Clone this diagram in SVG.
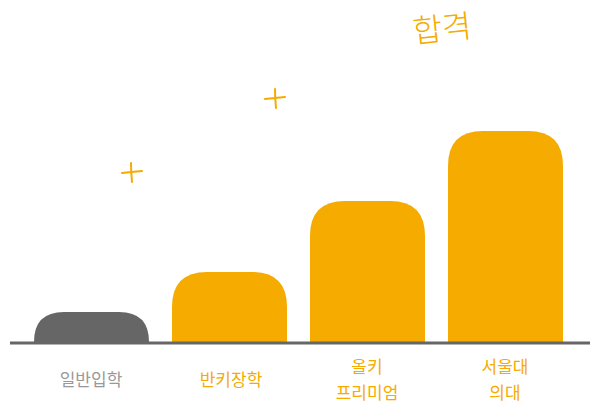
<svg xmlns="http://www.w3.org/2000/svg" width="600" height="403" viewBox="0 0 600 403">
<style>
.bar{fill:#f5ab00}
.lbl{font-family:"Noto Sans CJK KR",sans-serif;font-size:17px;text-anchor:middle;fill:#f5ab00}
.plus{stroke:#f5ab00;stroke-width:2;stroke-linecap:round;fill:none}
</style>
<rect width="600" height="403" fill="#fff"/>
<g id="bar1"><path d="M34,343 V342 Q34,312 64,312 H119 Q149,312 149,342 V343 Z" fill="#666"/></g>
<g id="bar2"><path class="bar" d="M172,343 V307 Q172,272 207,272 H252 Q287,272 287,307 V343 Z"/></g>
<g id="bar3"><path class="bar" d="M310,343 V236 Q310,201 345,201 H390 Q425,201 425,236 V343 Z"/></g>
<g id="bar4"><path class="bar" d="M448,343 V166 Q448,131 483,131 H528 Q563,131 563,166 V343 Z"/></g>
<g id="axis"><line x1="10" y1="343" x2="590" y2="343" stroke="#666" stroke-width="3"/></g>
<g id="labels">
<text class="lbl" x="91" y="386" style="fill:#999">일반입학</text>
<text class="lbl" x="231" y="386">반키장학</text>
<text class="lbl" x="367" y="373">올키</text>
<text class="lbl" x="367" y="399">프리미엄</text>
<text class="lbl" x="505" y="373">서울대</text>
<text class="lbl" x="505" y="399">의대</text>
</g>
<g id="deco">
<path class="plus" d="M122,173 Q131,172 142,171 M131,163 Q131,172 132,182"/>
<path class="plus" d="M265,99 Q275,98 285,97 M275,89 Q275,98 276,108"/>
<text x="442" y="40" font-family="'Noto Sans CJK KR',sans-serif" font-size="32" font-weight="300" fill="#f5ab00" text-anchor="middle" transform="rotate(-6 442 28)">합격</text>
</g>
</svg>
